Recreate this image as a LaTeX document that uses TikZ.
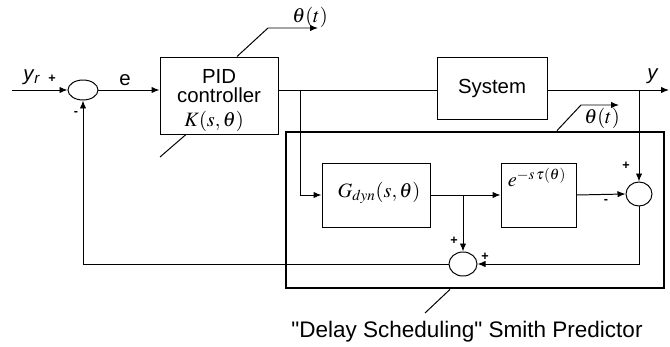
\documentclass[tikz,border=0pt]{standalone}
\usepackage{mathptmx}
\usepackage[no-math]{fontspec}
\setmainfont{Liberation Sans}
\newfontfamily\quotefont{Liberation Sans}[Ligatures=ResetAll]
\usepackage{tikz}
\usetikzlibrary{arrows.meta,positioning,shapes.geometric}
\tikzset{
  smith-block/.style={draw=black, line width=0.7pt, fill=white, align=center,
    font=\fontsize{14.5}{16}\selectfont, inner sep=0pt},
  smith-sum/.style={draw=black, line width=0.7pt, ellipse, fill=white, inner sep=0pt},
  smith-frame/.style={draw=black, line width=2pt},
  smith-wire/.style={draw=black, line width=0.7pt},
  smith-arrow/.style={smith-wire, -{Latex[length=2mm,width=1.6mm]}},
  smith-sign/.style={font=\fontsize{9}{10}\selectfont\bfseries, inner sep=0pt},
  smith-label/.style={font=\fontsize{14.5}{16}\selectfont, inner sep=0pt},
  smith-math/.style={font=\fontsize{14.5}{16}\selectfont, inner sep=0pt}
}
\begin{document}
\begin{tikzpicture}[x=0.025cm, y=-0.025cm]
  \useasboundingbox (0,0) rectangle (670,347);
  \node[smith-frame, minimum width=378*0.025cm, minimum height=156*0.025cm] (frame) at (475,210) {};
  \node[smith-sum, minimum width=30*0.025cm, minimum height=20*0.025cm] (sum1) at (83,90) {};
  \node[smith-block, minimum width=118*0.025cm, minimum height=77*0.025cm] (pid) at (219,95.5) {};
  \node[smith-label] (pidtxt) at (219,76) {PID};
  \node[smith-label] (ctrltxt) at (219,95) {controller};
  \node[smith-math] (ktxt) at (214,121) {$K(s,\theta)$};
  \node[smith-block, minimum width=110*0.025cm, minimum height=62*0.025cm] (sys) at (492,88) {System};
  \node[smith-block, minimum width=108*0.025cm, minimum height=64*0.025cm] (gdyn) at (376,195) {};
  \node[smith-math] (gtxt) at (379,193) {$G_{dyn}(s,\theta)$};
  \node[smith-block, minimum width=75*0.025cm, minimum height=64*0.025cm] (delay) at (538.5,195) {};
  \node[smith-math, anchor=north] (delaytxt) at (537,168) {$e^{-s\,\tau(\theta)}$};
  \node[smith-sum, minimum width=26*0.025cm, minimum height=24*0.025cm] (sum2) at (639,194) {};
  \node[smith-sum, minimum width=28*0.025cm, minimum height=24*0.025cm] (sum3) at (463,264) {};
  \coordinate (yin) at (12,90);
  \coordinate (utap) at (300,90);
  \coordinate (ytap) at (639,90);
  \coordinate (yend) at (669,90);
  \draw[smith-arrow] (yin) -- (sum1.west);
  \draw[smith-arrow] (sum1.east) -- (sum1 -| pid.west);
  \draw[smith-wire] (pid.east |- sum1) -- (sum1 -| sys.west);
  \draw[smith-arrow] (sys.east |- sum1) -- (yend);
  \draw[smith-arrow] (utap) |- (gdyn.west);
  \draw[smith-arrow] (ytap) -- (sum2.north);
  \draw[smith-arrow] (gdyn.east) -- (delay.west);
  \draw[smith-arrow] (sum3 |- gdyn.east) -- (sum3.north);
  \draw[smith-arrow] (delay.east) -- (sum2.west);
  \draw[smith-arrow] (sum2.south) |- (sum3.east);
  \draw[smith-arrow] (sum3.west) -| (sum1.south);
  \coordinate (kin) at (160,157);
  \coordinate (kout) at (268,28);
  \coordinate (kend) at (318,28);
  \draw[smith-wire] (kin) -- (pid.south -| 186,0);
  \draw[smith-arrow] (pid.north -| 237,0) -- (kout) -- (kend);
  \coordinate (pout) at (581,105);
  \coordinate (pend) at (619,105);
  \draw[smith-arrow] (frame.north -| 557,0) -- (pout) -- (pend);
  \coordinate (nameend) at (425,313);
  \draw[smith-wire] (frame.south -| 450,0) -- (nameend);
  \node[smith-math] (thetatop) at (310,17) {$\theta(t)$};
  \node[smith-math] (thetabox) at (602,118) {$\theta(t)$};
  \node[smith-label] (yrlbl) at (32,77) {\textit{y}\textsubscript{\textit{r}}};
  \node[smith-sign] (yrsign) at (52,79) {+};
  \node[smith-sign] (fbsign) at (76,113) {-};
  \node[smith-label] (elbl) at (125,80) {e};
  \node[smith-label] (ylbl) at (653,76) {\textit{y}};
  \node[smith-sign] (s2top) at (626,166) {+};
  \node[smith-sign] (s2left) at (606,201) {-};
  \node[smith-sign] (s3top) at (454,241) {+};
  \node[smith-sign] (s3right) at (485,257) {+};
  \node[font=\fontsize{16}{18}\selectfont\quotefont, inner sep=0pt] (smithlbl) at (467,332) {"Delay Scheduling" Smith Predictor};
\end{tikzpicture}
\end{document}
